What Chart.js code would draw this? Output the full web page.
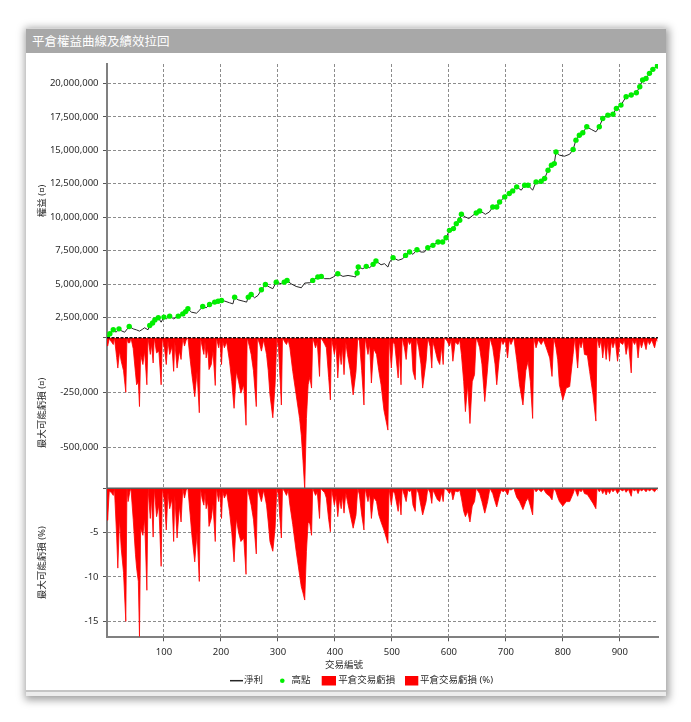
<!DOCTYPE html>
<html><head><meta charset="utf-8">
<script src="https://cdn.jsdelivr.net/npm/chart.js@4/dist/chart.umd.min.js"></script>
<style>
html,body{margin:0;padding:0;background:#fff;}
body{width:691px;height:722px;overflow:hidden;position:relative;font-family:"Noto Sans","Noto Sans CJK TC",sans-serif;}
#win{position:absolute;left:26px;top:28px;width:640px;height:668px;background:#fff;box-shadow:1px 2px 8px 2px rgba(0,0,0,0.38);}
#bar{height:24px;border-top:1px solid #d6d6d6;background:#a8a8a8;color:#fff;font-family:"Noto Sans CJK TC",sans-serif;font-size:12.5px;line-height:24px;padding-left:6px;box-sizing:content-box;}
#plot{position:relative;width:640px;height:637px;}
#foot{height:4px;border-top:2px solid #c4c4c4;background:#ececec;}
</style></head>
<body>
<div id="win">
  <div id="bar">平倉權益曲線及績效拉回</div>
  <div id="plot"><canvas id="c" width="640" height="637"></canvas></div>
  <div id="foot"></div>
</div>
<script>
// ---------- data ----------
const eqTrade = [1,5,11,16,21,26,31,39,46,52,57,62,66,72,75,80,84,90,95,100,104,110,117,125,133,138,142,148,157,163,168,174,180,189,195,201,207,215,221,224,230,239,245,248,253,259,265,271,278,285,291,297,306,311,316,323,332,341,347,356,361,370,376,382,391,397,405,414,423,432,436,439,441,449,455,461,467,472,481,487,493,496,502,511,519,524,531,537,544,551,557,563,572,581,589,595,601,608,613,619,622,629,635,642,648,654,660,664,671,677,684,689,698,706,712,719,727,733,739,747,753,762,768,774,780,785,788,794,803,812,818,823,829,835,842,850,858,864,870,879,888,894,902,911,920,929,935,940,946,952,958,966];
const eqValue = [1000000,1290000,1590000,1410000,1660000,1500000,1410000,1840000,1660000,1580000,
1490000,1620000,1740000,1590000,1910000,2100000,2330000,2490000,2160000,2540000,
2410000,2610000,2410000,2610000,2780000,2950000,3160000,2910000,2830000,3080000,
3330000,3230000,3480000,3660000,3720000,3780000,3730000,3610000,3530000,4030000,
3830000,3730000,3660000,4030000,4230000,3980000,4160000,4580000,4980000,4780000,
4660000,5150000,5030000,5150000,5280000,5030000,4830000,4730000,5080000,5110000,
5280000,5530000,5580000,5410000,5410000,5530000,5780000,5580000,5650000,5580000,
5530000,5830000,6280000,6150000,6330000,6230000,6480000,6730000,6450000,6530000,
6280000,6650000,6980000,6780000,6900000,7150000,7400000,7230000,7570000,7400000,
7400000,7720000,7900000,8150000,8150000,8470000,9020000,9150000,9520000,9770000,
10220000,10020000,9900000,10140000,10320000,10470000,10340000,10220000,10390000,10770000,
10770000,11140000,11520000,11770000,11970000,12270000,12020000,12390000,12390000,12020000,
12640000,12690000,12890000,13510000,13890000,14010000,14880000,14640000,14560000,14710000,
15060000,15760000,16130000,16310000,16760000,16560000,16380000,16760000,17380000,17630000,
17700000,18130000,18380000,19000000,19130000,19300000,19750000,20250000,20370000,20750000,
21050000,21300000];

const ddTrade = [0,1,4,8,11,13,17,19,22,25,
29,33,35,37,40,42,46,50,52,55,
57,59,63,66,70,72,76,78,81,83,
87,91,95,97,101,104,107,110,114,117,
119,123,127,130,133,136,139,142,146,149,
154,158,162,164,167,170,172,174,177,179,
183,186,190,192,196,198,201,203,206,210,
215,219,223,227,231,235,240,244,246,250,
253,257,262,264,268,271,275,280,283,286,
291,295,298,301,303,306,308,312,315,318,
321,326,332,338,341,344,347,350,353,356,
359,361,366,369,373,375,379,382,385,389,
392,394,399,402,405,408,411,413,416,419,
422,427,432,437,440,443,447,451,453,458,
461,464,468,473,477,481,486,493,495,499,
502,505,511,513,516,518,522,525,528,531,
534,537,541,543,547,551,554,560,563,567,
570,572,575,580,584,587,590,592,597,601,
604,607,611,616,619,622,626,629,633,637,
641,645,648,651,654,658,663,668,672,677,
681,684,689,692,695,699,703,706,709,714,
719,724,730,735,739,743,747,749,753,757,
762,766,771,777,781,784,788,791,794,800,
806,812,818,821,826,829,832,835,838,843,
847,853,858,860,864,867,870,873,876,879,
882,885,888,892,896,900,905,908,911,915,
920,922,926,929,932,935,938,942,946,949,
952,956,961,964,966];

const ddCash = [0,-38000,-5000,-20000,-31000,0,-90000,-138000,-61000,-107000,
-150000,-248000,0,-23000,-23000,0,-50000,-160000,-214000,-200000,
-313000,-76000,-122000,-61000,-214000,0,-76000,-30000,-115000,0,
-69000,-61000,-214000,0,-50000,-122000,-15000,-76000,-40000,-153000,
-20000,-138000,-60000,-99000,0,-38000,-10000,0,-100000,-168000,
-268000,-153000,-341000,0,-40000,-76000,-20000,-92000,-50000,-145000,
-122000,-60000,-217000,0,-46000,-10000,-122000,-15000,-46000,-20000,
-107000,-200000,-321000,-153000,-200000,-252000,-214000,-398000,0,-40000,
-76000,-150000,-313000,0,-30000,-61000,-10000,-76000,-150000,-260000,
-364000,-214000,0,-46000,-150000,-306000,0,-20000,-31000,-10000,
-46000,-153000,-260000,-367000,-443000,-560000,-688000,-367000,-214000,-180000,
-229000,0,-46000,-20000,-176000,0,-15000,-30000,-46000,-180000,
-283000,0,-76000,-30000,-183000,-60000,-122000,-40000,-168000,-20000,
-76000,-150000,-260000,-153000,0,-15000,-150000,-306000,0,-76000,
-30000,-206000,-50000,-76000,-150000,-214000,-329000,-420000,0,-138000,
-20000,-31000,-183000,-60000,-214000,0,-46000,-99000,-10000,-31000,
-15000,-153000,-191000,0,-46000,-120000,-229000,-107000,0,-40000,
-138000,-20000,-46000,-100000,-122000,-40000,-122000,0,-15000,-38000,
-10000,-107000,-20000,-31000,-10000,-76000,-200000,-336000,-214000,-390000,
-200000,-168000,0,-20000,-46000,-120000,-290000,-138000,0,-46000,
-120000,-214000,-76000,-10000,-31000,-10000,-92000,-10000,-31000,0,
-100000,-214000,-306000,-150000,-107000,-200000,-367000,0,-46000,-10000,
-31000,-10000,-46000,-92000,-176000,0,-46000,-100000,-214000,-283000,
-229000,-222000,-76000,0,-138000,-20000,-46000,-10000,-76000,-80000,
-153000,-260000,-379000,0,-46000,-10000,-92000,-20000,-99000,-20000,
-107000,-15000,-46000,-10000,-107000,-20000,-31000,-10000,-76000,-20000,
-160000,-10000,-31000,-10000,-92000,-15000,-46000,-10000,-54000,-10000,
-31000,-10000,-46000,-10000,-15000];

const ddPct = [0,-3.6,-0.3,-0.5,-0.8,0,-5.5,-9.0,-3.4,-6.8,
-9.5,-15.0,0,-1.5,-0.4,0,-3.5,-7.5,-9.0,-10.5,
-16.7,-4.5,-5.3,-3.4,-11.5,0,-3.4,-1.0,-5.5,0,
-3.2,-1.9,-8.8,0,-1.5,-4.7,-0.5,-2.3,-1.2,-6.0,
-0.8,-5.6,-2.0,-3.8,0,-1.1,-0.2,0,-3.0,-5.3,
-8.3,-4.9,-10.5,0,-1.2,-1.9,-0.5,-2.3,-1.5,-4.3,
-3.4,-1.8,-6.0,0,-1.5,-0.3,-3.4,-0.3,-1.1,-0.5,
-2.6,-5.0,-8.3,-3.4,-5.0,-6.0,-5.6,-9.7,0,-1.0,
-1.9,-3.5,-7.4,0,-0.8,-1.5,-0.2,-1.9,-3.8,-6.0,
-7.1,-4.5,0,-0.8,-3.0,-5.6,0,-0.4,-0.8,-0.2,
-1.9,-4.1,-7.1,-9.8,-11.1,-11.8,-12.6,-7.1,-3.8,-4.0,
-5.3,0,-0.8,-0.4,-3.4,0,-0.3,-0.5,-1.1,-3.5,
-4.9,0,-1.9,-0.8,-3.2,-1.2,-2.3,-0.8,-2.8,-0.5,
-1.5,-3.0,-4.5,-3.0,0,-0.75,-3.0,-4.7,0,-1.5,
-0.6,-3.4,-1.0,-1.5,-3.0,-3.8,-4.7,-6.2,0,-1.9,
-0.3,-0.6,-2.6,-1.0,-3.0,0,-0.8,-1.5,-0.2,-0.4,
-0.2,-1.9,-2.6,0,-0.6,-2.0,-3.0,-1.5,0,-0.5,
-1.7,-0.2,-0.6,-1.3,-1.5,-0.5,-1.5,0,-0.2,-0.6,
-0.2,-1.3,-0.3,-0.4,-0.2,-1.1,-2.6,-3.2,-2.6,-3.8,
-2.0,-1.5,0,-0.3,-0.6,-1.5,-2.8,-1.5,0,-0.6,
-1.5,-2.1,-0.75,-0.2,-0.4,-0.2,-0.75,-0.1,-0.2,0,
-1.0,-1.5,-2.4,-1.5,-1.1,-2.0,-3.0,0,-0.4,-0.1,
-0.4,-0.1,-0.6,-0.9,-1.3,0,-0.4,-1.0,-1.5,-2.0,
-1.5,-1.5,-0.6,0,-0.9,-0.2,-0.4,-0.1,-0.6,-0.7,
-1.1,-1.7,-2.3,0,-0.4,-0.1,-0.6,-0.2,-0.75,-0.2,
-0.6,-0.1,-0.4,-0.1,-0.6,-0.1,-0.3,-0.1,-0.45,-0.1,
-0.9,-0.1,-0.3,-0.1,-0.6,-0.1,-0.3,-0.1,-0.4,-0.1,
-0.3,-0.1,-0.4,-0.1,-0.2];

const xTicks = [100,200,300,400,500,600,700,800,900];
const eqTicks = [2500000,5000000,7500000,10000000,12500000,15000000,17500000,20000000];
const cashTicks = [0,-250000,-500000];
const pctTicks = [0,-5,-10,-15];
const seriesLabels = ['淨利','高點','平倉交易虧損','平倉交易虧損 (%)'];
const axisTitles = ['權益 (¤)','最大可能虧損 (¤)','最大可能虧損 (%)','交易編號'];

// ---------- build datasets ----------
const eqPoints = eqTrade.map((t,i)=>({x:t,y:eqValue[i]}));
const highPoints = [];
let runMax = -Infinity;
eqTrade.forEach((t,i)=>{ if (eqValue[i] >= runMax) { runMax = eqValue[i]; highPoints.push({x:t,y:eqValue[i]}); } });
const cashPoints = ddTrade.map((t,i)=>({x:t,y:ddCash[i]}));
const pctPoints = ddTrade.map((t,i)=>({x:t,y:ddPct[i]}));

const FONT = '"Noto Sans", "Noto Sans CJK TC", sans-serif';
Chart.defaults.font.family = FONT;
Chart.defaults.font.size = 9.5;
Chart.defaults.color = '#2a2a2a';

const GRID = '#8c8c8c';
const fmt = v => v === 0 ? '' : Number(v).toLocaleString('en-US');

function yAxis(title, min, max, ticksArr, weight, stackWeight) {
  return {
    type: 'linear', position: 'left', stack: 'panels', stackWeight, weight,
    min, max,
    afterBuildTicks: s => { s.ticks = ticksArr.map(v => ({value: v})); },
    afterFit: s => { s.width = 77; },
    ticks: { autoSkip: false, padding: 4.5, callback: fmt, color: '#2a2a2a' },
    grid: { color: ctx => (ctx.tick && ctx.tick.value === 0) ? 'rgba(0,0,0,0)' : GRID, lineWidth: 1, tickLength: 4, tickColor: '#555' },
    border: { display: true, color: '#808080', width: 2, dash: [3,2] },
    title: { display: true, text: title, color: '#2a2a2a', font: {size: 9.5}, padding: {top: 6.3, bottom: 0} }
  };
}

const baselines = {
  id: 'baselines',
  afterDatasetsDraw(chart) {
    const {ctx, chartArea} = chart;
    const yd = chart.scales.yDD.getPixelForValue(0);
    const yp = chart.scales.yPct.getPixelForValue(0);
    ctx.save();
    ctx.beginPath();
    ctx.setLineDash([3,1.5]); ctx.lineWidth = 1.5; ctx.strokeStyle = '#111';
    ctx.moveTo(chartArea.left, yd); ctx.lineTo(chartArea.right, yd); ctx.stroke();
    ctx.setLineDash([]); ctx.lineWidth = 1.5; ctx.strokeStyle = '#5a5a5a';
    ctx.beginPath();
    ctx.moveTo(chartArea.left, yp); ctx.lineTo(chartArea.right, yp); ctx.stroke();
    ctx.restore();
  }
};

const bottomLegend = {
  id: 'bottomLegend',
  afterDraw(chart) {
    const ctx = chart.ctx, ds = chart.data.datasets;
    const y = chart.height - 9.3;
    ctx.save();
    ctx.font = '9.5px ' + FONT;
    ctx.textBaseline = 'middle';
    ctx.textAlign = 'left';
    ctx.strokeStyle = ds[0].borderColor; ctx.lineWidth = 1.5;
    ctx.beginPath(); ctx.moveTo(204, y); ctx.lineTo(217, y); ctx.stroke();
    ctx.fillStyle = '#2a2a2a'; ctx.fillText(ds[0].label, 218, y);
    ctx.fillStyle = ds[1].backgroundColor;
    ctx.beginPath(); ctx.arc(256.3, y, 2.3, 0, Math.PI*2); ctx.fill();
    ctx.fillStyle = '#2a2a2a'; ctx.fillText(ds[1].label, 265.5, y);
    ctx.fillStyle = ds[2].backgroundColor; ctx.fillRect(295.7, y - 4.7, 14.3, 9.5);
    ctx.fillStyle = '#2a2a2a'; ctx.fillText(ds[2].label, 312.3, y);
    ctx.fillStyle = ds[3].backgroundColor; ctx.fillRect(379, y - 4.7, 13.3, 9.5);
    ctx.fillStyle = '#2a2a2a'; ctx.fillText(ds[3].label, 394, y);
    ctx.restore();
  }
};

new Chart(document.getElementById('c'), {
  type: 'line',
  data: {
    datasets: [
      { label: seriesLabels[0], data: eqPoints, yAxisID: 'yEq', borderColor: '#262626', borderWidth: 1, pointRadius: 0, tension: 0, fill: false, order: 1 },
      { label: seriesLabels[1], data: highPoints, yAxisID: 'yEq', showLine: false, pointRadius: 2.7, pointBorderWidth: 0, backgroundColor: '#00ee00', borderColor: '#00ee00', order: 0 },
      { label: seriesLabels[2], data: cashPoints, yAxisID: 'yDD', borderColor: '#ff0000', backgroundColor: '#ff0000', borderWidth: 0.8, pointRadius: 0, tension: 0, fill: 'origin', order: 2 },
      { label: seriesLabels[3], data: pctPoints, yAxisID: 'yPct', borderColor: '#ff0000', backgroundColor: '#ff0000', borderWidth: 0.8, pointRadius: 0, tension: 0, fill: 'origin', order: 3 }
    ]
  },
  options: {
    responsive: false, animation: false, maintainAspectRatio: false,
    layout: { padding: { left: 4, right: 8, top: 11, bottom: 17 } },
    plugins: {
      legend: { display: false },
      tooltip: { enabled: false },
      title: { display: true, position: 'bottom', text: axisTitles[3], color: '#2a2a2a', font: { size: 9.5, weight: 'normal' }, padding: { top: 0, bottom: 2 } }
    },
    scales: {
      x: {
        type: 'linear', position: 'bottom', min: 0, max: 967,
        afterBuildTicks: s => { s.ticks = xTicks.map(v => ({value: v})); },
        afterFit: s => { s.height = 22.3; },
        ticks: { autoSkip: false, maxRotation: 0, padding: 5, color: '#2a2a2a' },
        grid: { color: GRID, lineWidth: 1, tickLength: 4, tickColor: '#555' },
        border: { display: true, color: '#808080', width: 2, dash: [3,2] }
      },
      yEq: yAxis(axisTitles[0], 1000000, 21450000, eqTicks, 3, 273.7),
      yDD: yAxis(axisTitles[1], -684500, 0, cashTicks, 2, 150.6),
      yPct: yAxis(axisTitles[2], -16.8, 0, pctTicks, 1, 149)
    }
  },
  plugins: [baselines, bottomLegend]
});
</script>
</body></html>
